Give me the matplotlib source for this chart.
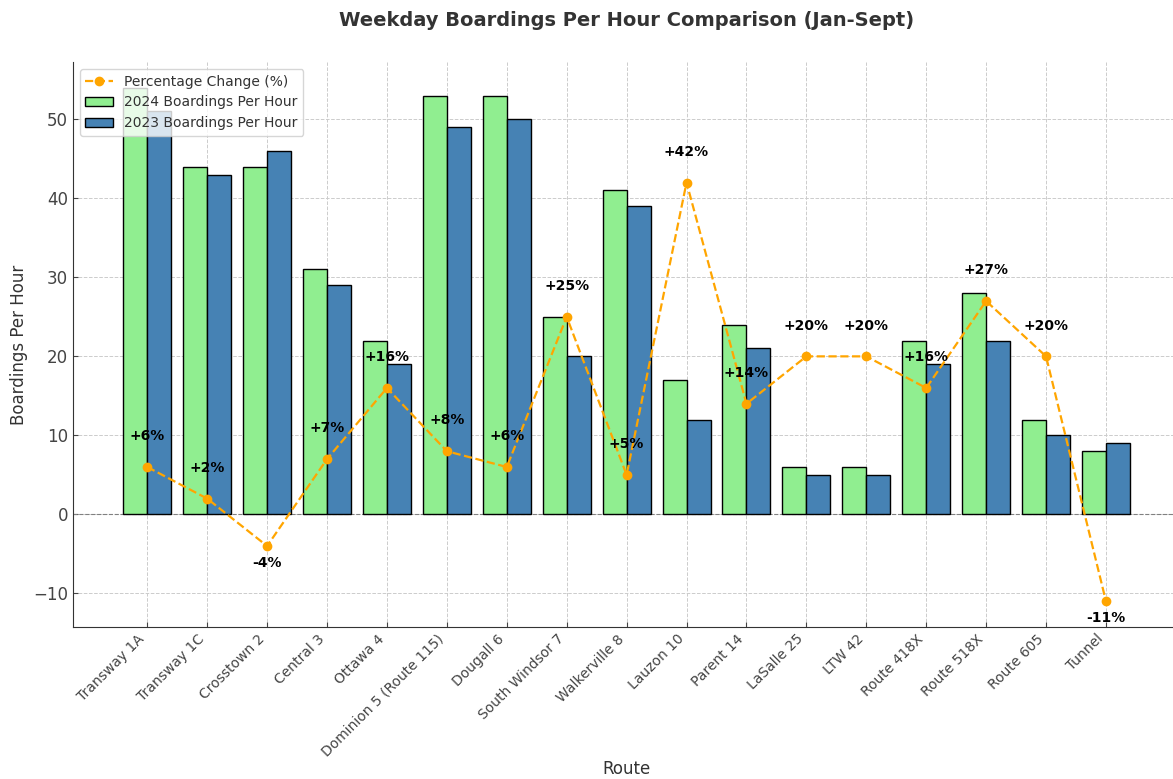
import numpy as np
import matplotlib
matplotlib.use("Agg")
import matplotlib.pyplot as plt

routes = ["Transway 1A", "Transway 1C", "Crosstown 2", "Central 3", "Ottawa 4",
          "Dominion 5 (Route 115)", "Dougall 6", "South Windsor 7", "Walkerville 8",
          "Lauzon 10", "Parent 14", "LaSalle 25", "LTW 42", "Route 418X",
          "Route 518X", "Route 605", "Tunnel"]
boardings_2024 = [54, 44, 44, 31, 22, 53, 53, 25, 41, 17, 24, 6, 6, 22, 28, 12, 8]
boardings_2023 = [51, 43, 46, 29, 19, 49, 50, 20, 39, 12, 21, 5, 5, 19, 22, 10, 9]
pct_change = [6, 2, -4, 7, 16, 8, 6, 25, 5, 42, 14, 20, 20, 16, 27, 20, -11]

plt.rcParams['text.color'] = '#333333'
plt.rcParams['axes.labelcolor'] = '#333333'
plt.rcParams['xtick.color'] = '#444444'
plt.rcParams['ytick.color'] = '#444444'
plt.rcParams['axes.edgecolor'] = '#333333'

fig = plt.figure(figsize=(11.73, 7.79), dpi=100)
ax = fig.add_axes([0.0622, 0.1951, 0.944, 0.7253])

x = np.arange(len(routes))
w = 0.4
ax.bar(x - w / 2, boardings_2024, w, color='lightgreen', edgecolor='black',
       label='2024 Boardings Per Hour', zorder=2)
ax.bar(x + w / 2, boardings_2023, w, color='steelblue', edgecolor='black',
       label='2023 Boardings Per Hour', zorder=2)
ax.plot(x, pct_change, color='orange', linestyle='--', marker='o', markersize=6,
        linewidth=1.6, label='Percentage Change (%)', zorder=3)

# labels sit 3 units above (or below) each point
for xi, p in zip(x, pct_change):
    off = 3 if p >= 0 else -3
    ax.text(xi, p + off, f"{p:+d}%", ha='center', va='bottom',
            fontsize=10, fontweight='bold', color='black', zorder=4)

ax.axhline(0, color='gray', linestyle='--', linewidth=0.8, zorder=1)
ax.grid(True, linestyle='--', linewidth=0.7, color='#cccccc', zorder=0)
ax.set_axisbelow(True)

ax.set_xticks(x)
ax.set_xticklabels(routes, rotation=45, ha='right', fontsize=10)
ax.tick_params(axis='y', labelsize=12, direction='in')
ax.tick_params(axis='x', direction='in')
ax.spines['top'].set_visible(False)
ax.spines['right'].set_visible(False)

ax.set_xlabel('Route', fontsize=12)
ax.xaxis.set_label_coords(0.5, -0.236)
ax.set_ylabel('Boardings Per Hour', fontsize=12)
ax.set_title('Weekday Boardings Per Hour Comparison (Jan-Sept)', fontsize=14,
             fontweight='bold', pad=26)

ax.legend(loc='upper left', fontsize=10)

fig.savefig('out.png', dpi=100)
